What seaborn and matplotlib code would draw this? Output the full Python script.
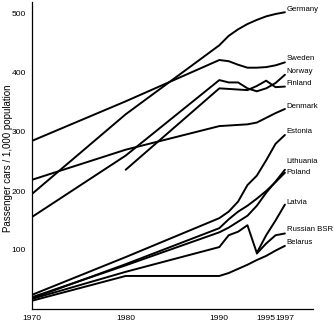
import numpy as np
import pandas as pd
import matplotlib
matplotlib.use("Agg")
import matplotlib.pyplot as plt
import seaborn as sns

years = [1970, 1980, 1990, 1991, 1992, 1993, 1994, 1995, 1996, 1997]
nan = np.nan
germany = [195, 330, 447, 463, 474, 483, 490, 496, 500, 503]
sweden = [285, 352, 422, 420, 414, 409, 409, 410, 413, 418]
norway = [156, 260, 388, 384, 384, 374, 369, 374, 383, 397]
finland = [nan, 236, 374, 373, 372, 371, 378, 387, 376, 377]
denmark = [219, 270, 310, 311, 312, 313, 316, 324, 332, 339]
estonia = [24, 88, 154, 165, 182, 210, 226, 252, 280, 295]
lithuania = [20, 74, 130, 138, 148, 158, 175, 197, 216, 236]
poland = [18, 76, 137, 152, 165, 175, 187, 200, 215, 231]
latvia = [17, 63, 105, 125, 131, 142, 95, 125, 150, 177]
russian_bsr = [nan, nan, nan, nan, nan, nan, 94, 111, 125, 128]
belarus = [14, 56, 56, 61, 68, 75, 83, 90, 99, 107]

countries = ["Germany", "Sweden", "Norway", "Finland", "Denmark", "Estonia",
             "Lithuania", "Poland", "Latvia", "Russian BSR", "Belarus"]
series = [germany, sweden, norway, finland, denmark, estonia,
          lithuania, poland, latvia, russian_bsr, belarus]
label_y = [508, 425, 403, 383, 344, 300, 250, 232, 181, 134, 112]

x_major = [1970, 1980, 1990, 1995, 1997]
x_minor = [1991, 1992, 1993, 1994, 1996]
y_ticks = [100, 200, 300, 400, 500]
ylabel = "Passenger cars / 1,000 population"

rows = []
for c, vals in zip(countries, series):
    for yr, v in zip(years, vals):
        if not np.isnan(v):
            rows.append({"country": c, "year": yr, "value": v})
df = pd.DataFrame(rows)

sns.set_style("white")
plt.rcParams["font.family"] = ["Liberation Sans", "DejaVu Sans"]

fig = plt.figure(figsize=(3.34, 3.27), dpi=100)
ax = fig.add_axes([32 / 334, 18 / 327, 281 / 334, 306.8 / 327])

sns.lineplot(data=df, x="year", y="value", units="country", estimator=None,
             color="black", linewidth=1.4, sort=True, ax=ax, legend=False)

ax.set_xlim(1970, 2000)
ax.set_ylim(0, 520)
ax.set_xticks(x_major)
ax.set_xticklabels([str(v) for v in x_major])
ax.set_xticks(x_minor, minor=True)
ax.set_yticks(y_ticks)
ax.set_yticklabels([str(v) for v in y_ticks])

for s in ["top", "right"]:
    ax.spines[s].set_visible(False)
for s in ["left", "bottom"]:
    ax.spines[s].set_color("black")
    ax.spines[s].set_linewidth(0.9)

ax.tick_params(axis="both", which="both", direction="out", length=3, width=0.8,
               color="black", labelsize=6.1, pad=1.5, labelcolor="black")
ax.tick_params(axis="x", which="minor", length=3, width=0.8)

ax.set_xlabel("")
ax.set_ylabel(ylabel, fontsize=7, color="black")
ax.yaxis.set_label_coords(-24 / 281, 0.49)
ax.yaxis.label.set_verticalalignment("center")

for c, ly in zip(countries, label_y):
    ax.text(1997.2, ly, c, fontsize=5.6, ha="left", va="center", color="black")

fig.savefig("out.png", dpi=100)
